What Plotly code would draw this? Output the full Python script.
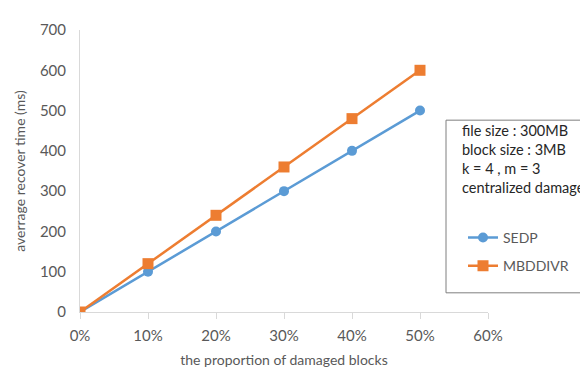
import plotly.graph_objects as go

proportions = [0.0, 0.1, 0.2, 0.3, 0.4, 0.5]
sedp = [0, 100, 200, 300, 400, 500]
mbddivr = [0, 120, 240, 360, 480, 600]
x_ticks = [0.0, 0.1, 0.2, 0.3, 0.4, 0.5, 0.6]
x_tick_labels = ["0%", "10%", "20%", "30%", "40%", "50%", "60%"]
info_lines = ["file size : 300MB", "block size : 3MB", "k = 4 , m = 3", "centralized damage"]

FONT = "Lato"
GREY = "#595959"
BLUE = "#5B9BD5"
ORANGE = "#ED7D31"

W, H = 588, 370
L, R, T, B = 72, 108, 13, 63
pw, ph = W - L - R, H - T - B

def px(x):
    return (x - L) / pw

def py(y):
    return (H - B - y) / ph

fig = go.Figure()
fig.add_trace(go.Scatter(x=proportions, y=sedp, name="SEDP", mode="lines+markers",
                         line=dict(color=BLUE, width=2.5),
                         marker=dict(symbol="circle", size=10, color=BLUE),
                         legendgroup="a"))
fig.add_trace(go.Scatter(x=proportions, y=mbddivr, name="MBDDIVR", mode="lines+markers",
                         line=dict(color=ORANGE, width=2.5),
                         marker=dict(symbol="square", size=11, color=ORANGE),
                         legendgroup="b"))

fig.add_shape(type="rect", xref="paper", yref="paper",
              x0=px(438), x1=px(640), y0=py(287), y1=py(107),
              line=dict(color="#7F7F7F", width=1), fillcolor="white", layer="above")

fig.add_annotation(xref="paper", yref="paper", x=px(452), y=py(107),
                   xanchor="left", yanchor="top", align="left", showarrow=False,
                   text="<br>".join(info_lines),
                   font=dict(family=FONT, size=14.5, color="#262626"))

fig.update_layout(
    width=W, height=H,
    margin=dict(l=L, r=R, t=T, b=B),
    paper_bgcolor="white", plot_bgcolor="white",
    font=dict(family=FONT, color=GREY, size=14),
    showlegend=True,
    legend=dict(x=px(455), y=py(213), xanchor="left", yanchor="top",
                bgcolor="rgba(0,0,0,0)", borderwidth=0,
                font=dict(family=FONT, size=14, color=GREY),
                traceorder="grouped", tracegroupgap=7, itemwidth=30),
    xaxis=dict(range=[0, 0.6], tickvals=x_ticks, ticktext=x_tick_labels,
               showgrid=False, zeroline=False, showline=True, linecolor="#D9D9D9",
               linewidth=1, ticks="outside", ticklen=6, tickcolor="#D9D9D9",
               tickfont=dict(family=FONT, size=15, color=GREY),
               ticklabelstandoff=4,
               title=dict(text="the proportion of damaged blocks", standoff=12,
                          font=dict(family=FONT, size=14, color=GREY))),
    yaxis=dict(range=[0, 700], dtick=100, showgrid=False, zeroline=False,
               showline=True, linecolor="#D9D9D9", linewidth=1,
               ticks="", tickfont=dict(family=FONT, size=15, color=GREY),
               ticklabelstandoff=10,
               title=dict(text="averrage recover time (ms)", standoff=10,
                          font=dict(family=FONT, size=14, color=GREY))),
)

fig.write_html("out.html")
